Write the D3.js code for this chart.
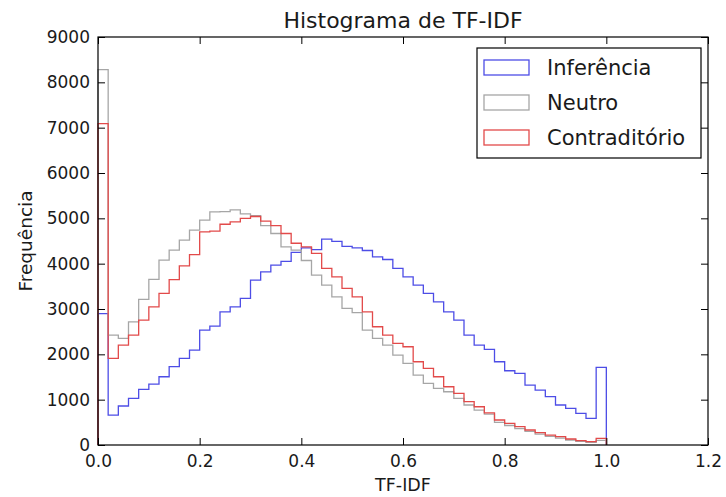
<!DOCTYPE html>
<html>
<head>
<meta charset="utf-8">
<script src="https://cdn.jsdelivr.net/npm/d3@7"></script>
<style>
  body { margin: 0; background: #fff; }
  text { font-family: "DejaVu Sans", sans-serif; fill: #1a1a1a; }
</style>
</head>
<body>
<div id="chart"></div>
<script>
// bins of width 0.02 between 0 and 1
const binCount = 50;
const binWidth = 0.02;

const seriesNames = ["Inferência", "Neutro", "Contraditório"];

const inferencia = [
  2900, 661, 860, 1029, 1227, 1344, 1506, 1727, 1910, 2094,
  2535, 2623, 2938, 3049, 3233, 3637, 3820, 3967, 4050, 4250,
  4350, 4310, 4540, 4490, 4380, 4350, 4290, 4150, 4092, 3894,
  3710, 3527, 3343, 3159, 2938, 2755, 2424, 2204, 2110, 1836,
  1638, 1580, 1322, 1212, 1065, 882, 809, 698, 588, 1712
];

const neutro = [
  8280, 2424, 2351, 2718, 3211, 3652, 4077, 4298, 4518, 4739,
  4959, 5142, 5150, 5185, 5100, 5060, 4840, 4666, 4370, 4298,
  4070, 3747, 3527, 3269, 3013, 2920, 2535, 2351, 2204, 1984,
  1800, 1543, 1360, 1250, 1175, 1029, 882, 771, 680, 500,
  430, 360, 300, 240, 190, 150, 110, 80, 60, 100
];

const contraditorio = [
  7090, 1910, 2204, 2424, 2755, 3049, 3343, 3650, 3950, 4200,
  4700, 4720, 4870, 4920, 5000, 5040, 4940, 4840, 4666, 4450,
  4372, 4225, 3894, 3710, 3454, 3269, 2938, 2608, 2424, 2241,
  2167, 1836, 1690, 1506, 1285, 1139, 955, 844, 710, 551,
  478, 404, 331, 272, 220, 184, 132, 95, 73, 148
];

const xTicks = [0, 0.2, 0.4, 0.6, 0.8, 1.0, 1.2];
const yTicks = [0, 1000, 2000, 3000, 4000, 5000, 6000, 7000, 8000, 9000];

const colors = ["#4d4de6", "#a6a6a6", "#e24a4a"];

const W = 726, H = 497;
const margin = {top: 37, right: 18, bottom: 52, left: 98};
const width = W - margin.left - margin.right;
const height = H - margin.top - margin.bottom;

const svg = d3.select("#chart").append("svg")
    .attr("width", W)
    .attr("height", H);

const g = svg.append("g")
    .attr("transform", `translate(${margin.left},${margin.top})`);

const x = d3.scaleLinear().domain([0, 1.2]).range([0, width]);
const y = d3.scaleLinear().domain([0, 9000]).range([height, 0]);

// step outline for one histogram
function stepPoints(values) {
    let pts = [[0, 0]];
    values.forEach((v, i) => {
        pts.push([i * binWidth, v]);
        pts.push([(i + 1) * binWidth, v]);
    });
    pts.push([binCount * binWidth, 0]);
    return pts;
}

const line = d3.line()
    .x(d => x(d[0]))
    .y(d => y(d[1]));

[inferencia, neutro, contraditorio].forEach((vals, k) => {
    g.append("path")
        .attr("d", line(stepPoints(vals)))
        .attr("fill", "none")
        .attr("stroke", colors[k])
        .attr("stroke-width", 1.3);
});

// axes, ticks pointing inward on all four sides
const tickLen = 7;
g.append("g")
    .attr("transform", `translate(0,${height})`)
    .call(d3.axisBottom(x).tickValues(xTicks).tickFormat(d3.format(".1f"))
        .tickSizeInner(-tickLen).tickSizeOuter(0).tickPadding(10));
g.append("g")
    .call(d3.axisTop(x).tickValues(xTicks).tickFormat("")
        .tickSizeInner(-tickLen).tickSizeOuter(0));
g.append("g")
    .call(d3.axisLeft(y).tickValues(yTicks).tickFormat(d3.format("d"))
        .tickSizeInner(-tickLen).tickSizeOuter(0).tickPadding(8));
g.append("g")
    .attr("transform", `translate(${width},0)`)
    .call(d3.axisRight(y).tickValues(yTicks).tickFormat("")
        .tickSizeInner(-tickLen).tickSizeOuter(0));

g.selectAll(".domain").remove();
g.selectAll(".tick line").attr("stroke", "#000");
g.selectAll(".tick text")
    .attr("font-size", 17)
    .attr("fill", "#1a1a1a")
    .attr("font-family", "DejaVu Sans, sans-serif");

g.append("rect")
    .attr("width", width)
    .attr("height", height)
    .attr("fill", "none")
    .attr("stroke", "#000")
    .attr("stroke-width", 1.2);

// title and axis labels
svg.append("text")
    .attr("x", margin.left + width / 2)
    .attr("y", 28)
    .attr("text-anchor", "middle")
    .attr("font-size", 22)
    .text("Histograma de TF-IDF");

svg.append("text")
    .attr("x", margin.left + width / 2)
    .attr("y", 491)
    .attr("text-anchor", "middle")
    .attr("font-size", 17.5)
    .text("TF-IDF");

svg.append("text")
    .attr("transform", `translate(32,${margin.top + height / 2}) rotate(-90)`)
    .attr("text-anchor", "middle")
    .attr("font-size", 18.5)
    .text("Frequência");

// legend
const legend = svg.append("g")
    .attr("transform", "translate(477,48)");

legend.append("rect")
    .attr("width", 224)
    .attr("height", 110)
    .attr("fill", "#fff")
    .attr("stroke", "#000")
    .attr("stroke-width", 1.2);

seriesNames.forEach((name, k) => {
    let row = legend.append("g")
        .attr("transform", `translate(0,${19 + k * 35})`);
    row.append("rect")
        .attr("x", 7)
        .attr("y", -7)
        .attr("width", 45)
        .attr("height", 15)
        .attr("fill", "#fff")
        .attr("stroke", colors[k])
        .attr("stroke-width", 1.3);
    row.append("text")
        .attr("x", 70)
        .attr("y", 8)
        .attr("font-size", 21)
        .text(name);
});
</script>
</body>
</html>
